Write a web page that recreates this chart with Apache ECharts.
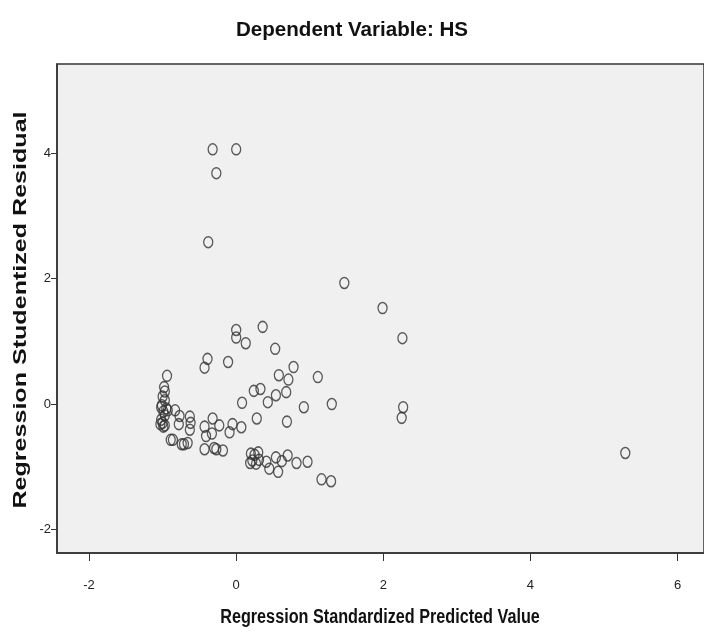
<!DOCTYPE html>
<html>
<head>
<meta charset="utf-8">
<script src="https://cdn.jsdelivr.net/npm/echarts@6/dist/echarts.min.js"></script>
<style>
html,body{margin:0;padding:0;background:#fff;}
#chart{width:704px;height:632px;}
</style>
</head>
<body>
<div id="chart"></div>
<script>
// Data: [predicted (standardized), studentized residual]
const outliers = [
  [-0.32, 4.06], [0.00, 4.06], [-0.27, 3.68], [-0.38, 2.58],
  [1.47, 1.93], [1.99, 1.53], [2.26, 1.05], [5.29, -0.78]
];
const midPoints = [
  [0.36, 1.23], [0.00, 1.18], [0.00, 1.06], [0.13, 0.97], [0.53, 0.88],
  [-0.39, 0.72], [-0.43, 0.58], [-0.11, 0.67], [0.78, 0.59], [0.58, 0.46],
  [0.71, 0.39], [1.11, 0.43], [0.24, 0.21], [0.33, 0.24], [0.54, 0.14],
  [0.68, 0.19], [0.43, 0.03], [0.08, 0.02], [0.92, -0.05], [1.30, 0.00],
  [2.27, -0.05], [2.25, -0.22], [0.28, -0.23], [0.69, -0.28]
];
const nearZero = [
  [0.07, -0.37], [-0.09, -0.45], [-0.05, -0.32], [-0.32, -0.23], [-0.43, -0.36],
  [-0.23, -0.34], [-0.41, -0.51], [-0.33, -0.47], [-0.43, -0.72], [-0.30, -0.70],
  [-0.27, -0.72], [-0.18, -0.74]
];
const leftGroup = [
  [-0.63, -0.20], [-0.62, -0.30], [-0.63, -0.41], [-0.83, -0.10], [-0.77, -0.19],
  [-0.78, -0.32], [-0.89, -0.57], [-0.86, -0.57], [-0.74, -0.64], [-0.71, -0.64],
  [-0.66, -0.62]
];
const column = [
  [-0.94, 0.45], [-0.98, 0.27], [-0.97, 0.20], [-1.00, 0.12], [-0.97, 0.06],
  [-1.01, -0.02], [-0.95, -0.07], [-0.99, -0.12], [-0.97, -0.18], [-1.02, -0.25],
  [-1.00, -0.30], [-1.03, -0.32], [-0.97, -0.34], [-0.99, -0.36], [-1.02, -0.05],
  [-0.93, -0.10]
];
const lowerCluster = [
  [0.20, -0.79], [0.22, -0.90], [0.19, -0.94], [0.25, -0.81], [0.30, -0.77],
  [0.31, -0.89], [0.27, -0.95], [0.41, -0.92], [0.45, -1.03], [0.54, -0.85],
  [0.62, -0.91], [0.70, -0.82], [0.57, -1.08], [0.82, -0.94], [0.97, -0.92],
  [1.16, -1.20], [1.29, -1.23]
];
const xTicks = [-2, 0, 2, 4, 6];
const yTicks = [-2, 0, 2, 4];
const titleText = 'Dependent Variable: HS';
const xName = 'Regression Standardized Predicted Value';
const yName = 'Regression Studentized Residual';

const allPoints = [].concat(outliers, midPoints, nearZero, leftGroup, column, lowerCluster);
const sans = "'Liberation Sans', Arial, sans-serif";

const chart = echarts.init(document.getElementById('chart'), null, {renderer: 'canvas'});
chart.setOption({
  animation: false,
  backgroundColor: '#ffffff',
  graphic: [
    {type: 'text', x: 352, y: 30, scaleX: 0.98,
     style: {text: titleText, font: "bold 21px " + sans, fill: '#111', textAlign: 'center', textVerticalAlign: 'middle'}},
    {type: 'text', x: 380, y: 617, scaleX: 0.81,
     style: {text: xName, font: "bold 20px " + sans, fill: '#111', textAlign: 'center', textVerticalAlign: 'middle'}},
    {type: 'text', x: 21, y: 310, rotation: Math.PI / 2, scaleX: 1.32,
     style: {text: yName, font: "bold 19px " + sans, fill: '#111', textAlign: 'center', textVerticalAlign: 'middle'}}
  ],
  grid: {
    left: 57, right: -3, top: 64, bottom: 79,
    show: true, backgroundColor: '#f0f0f0', borderColor: '#333', borderWidth: 1.5
  },
  xAxis: {
    type: 'value', min: -2.436, max: 6.36,
    axisLine: {show: true, onZero: false, lineStyle: {color: '#333', width: 1.5}},
    axisTick: {show: true, length: 8, customValues: xTicks, lineStyle: {color: '#333', width: 1}},
    axisLabel: {customValues: xTicks, margin: 26, fontFamily: sans, fontSize: 13, color: '#222'},
    splitLine: {show: false}
  },
  yAxis: {
    type: 'value', min: -2.374, max: 5.42,
    axisLine: {show: true, onZero: false, lineStyle: {color: '#333', width: 1.5}},
    axisTick: {show: true, length: 6, customValues: yTicks, lineStyle: {color: '#333', width: 1}},
    axisLabel: {customValues: yTicks, margin: 6, fontFamily: sans, fontSize: 13, color: '#222'},
    splitLine: {show: false}
  },
  series: [{
    type: 'scatter',
    data: allPoints,
    symbol: 'circle',
    symbolSize: [9, 11],
    itemStyle: {color: 'rgba(0,0,0,0)', borderColor: '#333', borderWidth: 1.4}
  }]
});
</script>
</body>
</html>
